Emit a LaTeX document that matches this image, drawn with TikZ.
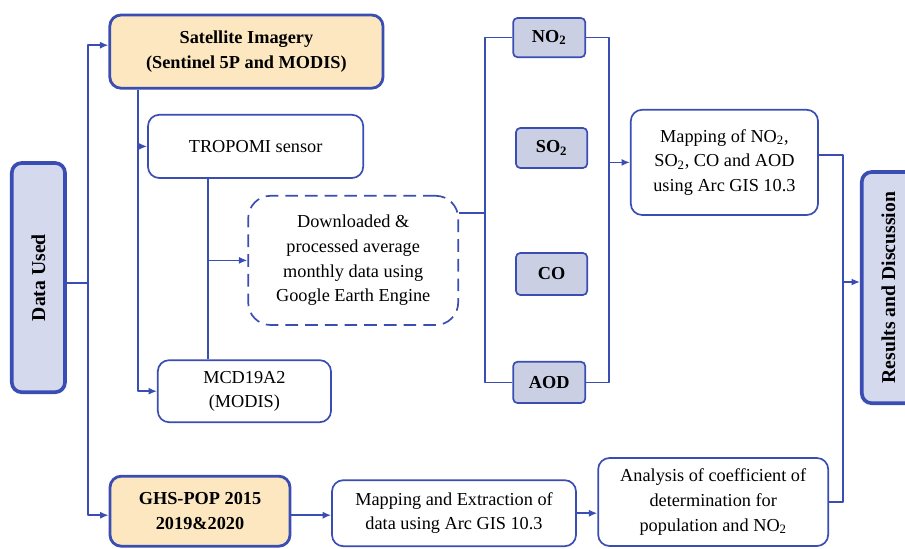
\documentclass[tikz,border=0pt]{standalone}
\usepackage{fontspec}
\setmainfont{Liberation Serif}
\usetikzlibrary{arrows.meta,calc,positioning}
\definecolor{LineBlue}{HTML}{3A4DB2}
\definecolor{SrcFill}{HTML}{FCE7C0}
\definecolor{SideFill}{HTML}{D5D9EE}
\definecolor{GasFill}{HTML}{CBCFE3}
\tikzset{
  box/.style={draw=LineBlue,line width=1.2pt,rounded corners=8pt,fill=white,align=center,font=\fontsize{13}{17.5}\selectfont},
  srcbox/.style={box,fill=SrcFill,line width=2pt,font=\fontsize{13}{17.5}\selectfont\bfseries},
  dlbox/.style={box,dash pattern=on 9pt off 5pt,rounded corners=16pt},
  gasbox/.style={draw=LineBlue,line width=1.2pt,rounded corners=3pt,fill=GasFill,font=\fontsize{13}{15}\selectfont\bfseries},
  sidebox/.style={draw=LineBlue,line width=2.6pt,rounded corners=7pt,fill=SideFill,rotate=90,font=\fontsize{14}{16}\selectfont\bfseries},
  link/.style={draw=LineBlue,line width=1.1pt},
  arr/.style={link,-{Latex[length=6pt,width=5pt]}},
}
\begin{document}
\begin{tikzpicture}[x=1cm,y=1cm,line join=round]
\useasboundingbox (0,0) rectangle (22.625,13.7);

% Side boxes (rotated: south = right side, north = left side)
\node[sidebox,minimum width=5.73cm,minimum height=1.33cm] (data) at (0.96,6.76) {Data Used};
\node[sidebox,minimum width=5.78cm,minimum height=1.33cm] (res) at (22.21,6.51) {Results and Discussion};

% Sources
\node[srcbox,minimum width=6.83cm,minimum height=1.83cm] (sat) at (6.16,12.41)
  {Satellite Imagery\\(Sentinel 5P and MODIS)};
\node[srcbox,minimum width=4.5cm,minimum height=1.75cm] (ghs) at (5.00,0.92)
  {GHS-POP 2015\\2019\&2020};

% Sensors
\node[box,minimum width=5.38cm,minimum height=1.58cm] (trop) at (6.39,10.04) {TROPOMI sensor};
\node[box,minimum width=4.33cm,minimum height=1.55cm] (mcd) at (6.11,3.92) {MCD19A2\\(MODIS)};
\node[dlbox,minimum width=5.25cm,minimum height=3.23cm] (dl) at (8.83,7.19)
  {Downloaded \&\\processed average\\monthly data using\\Google Earth Engine};

% Pollutants
\node[gasbox,minimum width=1.8cm,minimum height=0.98cm] (no2) at (13.73,12.76) {NO\textsubscript{2}};
\node[gasbox,minimum width=1.78cm,minimum height=1.0cm] (so2) at (13.79,10.0) {SO\textsubscript{2}};
\node[gasbox,minimum width=1.78cm,minimum height=1.05cm] (co) at (13.79,6.85) {CO};
\node[gasbox,minimum width=1.8cm,minimum height=1.03cm] (aod) at (13.73,4.14) {AOD};

% Mapping and analysis
\node[box,minimum width=4.68cm,minimum height=2.63cm] (map) at (18.11,9.64)
  {Mapping of NO\textsubscript{2},\\SO\textsubscript{2}, CO and AOD\\using Arc GIS 10.3};
\node[box,minimum width=6.1cm,minimum height=1.65cm] (mext) at (11.35,0.87)
  {Mapping and Extraction of\\data using Arc GIS 10.3};
\node[box,minimum width=5.75cm,minimum height=2.2cm] (ana) at (17.83,1.15)
  {Analysis of coefficient of\\determination for\\population and NO\textsubscript{2}};

% Trunk lines
\coordinate (jd) at (2.20,0);
\coordinate (js) at (3.45,0);
\coordinate (jt) at (5.20,0);
\coordinate (jg) at (12.13,0);
\coordinate (jh) at (15.23,0);
\coordinate (jr) at (21.08,0);

% Data used
\draw[link] ([yshift=-0.14cm]data.south) -- ([yshift=-0.14cm]data.south -| jd);
\draw[arr] (data.south -| jd) |- ([yshift=0.16cm]sat.west);
\draw[arr] (data.south -| jd) |- ([yshift=-0.1cm]ghs.west);

% Satellite branch
\draw[arr] (sat.south -| js) |- (trop.west);
\draw[arr] (sat.south -| js) |- (mcd.west);
\draw[link] (trop.south -| jt) -- (mcd.north -| jt);
\draw[arr] (dl.west -| jt) -- (dl.west);

% Pollutants
\draw[link] ([yshift=1.18cm]dl.east) -- ([yshift=1.18cm]dl.east -| jg);
\draw[link] (no2.west) -| (jg |- aod.west) -- (aod.west);
\draw[link] (no2.east) -| (jh |- aod.east) -- (aod.east);
\draw[arr] (jh |- map.west) -- (map.west);

% Results
\draw[link] ([yshift=0.18cm]map.east) -| (jr |- ana.east) -- (ana.east);
\draw[arr] ([yshift=0.14cm]jr |- res.north) -- ([yshift=0.14cm]res.north);

% Population branch
\draw[arr] ([yshift=-0.1cm]ghs.east) -- ([yshift=-0.1cm]ghs.east -| mext.west);
\draw[arr] (mext.east) -- (mext.east -| ana.west);

\end{tikzpicture}
\end{document}
